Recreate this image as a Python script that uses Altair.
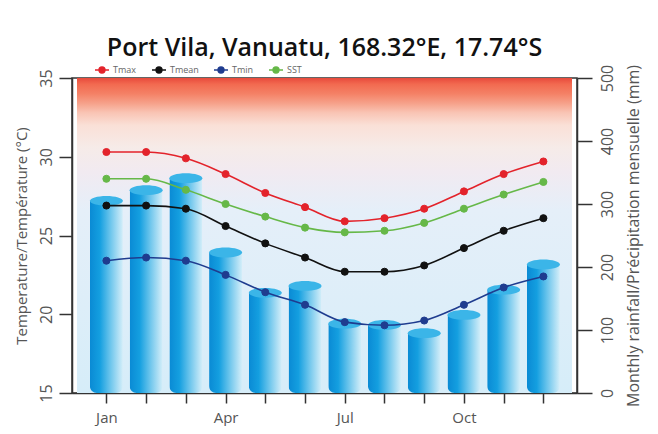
import altair as alt
import pandas as pd

# ---------------- data ----------------
months = list(range(1, 13))
month_names = ["Jan", "Feb", "Mar", "Apr", "May", "Jun", "Jul", "Aug", "Sep", "Oct", "Nov", "Dec"]
labelled_months = ["Jan", "Apr", "Jul", "Oct"]

tmax = [30.3, 30.3, 29.9, 28.9, 27.7, 26.8, 25.9, 26.1, 26.7, 27.8, 28.9, 29.7]
tmean = [26.9, 26.9, 26.7, 25.6, 24.5, 23.6, 22.7, 22.7, 23.1, 24.2, 25.3, 26.1]
tmin = [23.4, 23.6, 23.4, 22.5, 21.4, 20.6, 19.5, 19.3, 19.6, 20.6, 21.7, 22.4]
sst = [28.6, 28.6, 27.9, 27.0, 26.2, 25.5, 25.2, 25.3, 25.8, 26.7, 27.6, 28.4]
rainfall = [305, 322, 341, 223, 159, 170, 110, 108, 95, 124, 164, 204]

series_names = ["Tmax", "Tmean", "Tmin", "SST"]
series_colors = ["#e3232b", "#111111", "#1f3c8f", "#66b848"]

temp_ticks = [15, 20, 25, 30, 35]
rain_ticks = [0, 100, 200, 300, 400, 500]
x_domain = [0.26, 12.72]

title_text = "Port Vila, Vanuatu, 168.32°E, 17.74°S"
left_title = "Temperature/Température (°C)"
right_title = "Monthly rainfall/Précipitation mensuelle (mm)"

# ---------------- tables ----------------
temp_df = pd.DataFrame(
    [{"month": m, "series": s, "temp": v}
     for s, vals in zip(series_names, [tmax, tmean, tmin, sst])
     for m, v in zip(months, vals)]
)
rain_df = pd.DataFrame({"month": months, "rain": rainfall})
bg_df = pd.DataFrame({"month": [x_domain[0]], "month_end": [x_domain[1]],
                      "rain": [rain_ticks[0]], "rain_end": [rain_ticks[-1]]})

FONT = "Open Sans"
AX = "#333333"

label_expr = "||".join(
    [f"datum.value=={months[month_names.index(n)]}" for n in labelled_months]
)
label_expr = ("(" + label_expr + ") ? " +
              "['" + "','".join(month_names) + "'][datum.value-1] : ''")

x_scale = alt.Scale(domain=x_domain, nice=False, zero=False)
x_axis = alt.Axis(values=months, labelExpr=label_expr, tickSize=10,
                  labelPadding=7, labelFontSize=15, labelColor="#555555",
                  labelFont=FONT, grid=False, domainColor=AX, tickColor=AX,
                  domainWidth=1.5, tickWidth=1.5, labelFlush=False)

rain_scale = alt.Scale(domain=[rain_ticks[0], rain_ticks[-1]], nice=False, zero=True)
temp_scale = alt.Scale(domain=[temp_ticks[0], temp_ticks[-1]], nice=False, zero=False)

right_axis = alt.Axis(
    orient="right", values=rain_ticks, grid=False,
    labelAngle=270, labelAlign="center", labelBaseline="top",
    tickSize=15, labelPadding=7, labelFontSize=16, labelColor="#555555",
    labelFont=FONT, titleFont=FONT, titleFontSize=16, titleFontWeight="normal",
    titleColor="#555555", titleAngle=270, titleBaseline="top", titlePadding=10,
    domainColor=AX, tickColor=AX, domainWidth=1.5, tickWidth=1.5,
)
left_axis = alt.Axis(
    orient="left", values=temp_ticks, grid=False,
    labelAngle=270, labelAlign="center", labelBaseline="bottom",
    tickSize=13, labelPadding=5, labelFontSize=16, labelColor="#555555",
    labelFont=FONT, titleFont=FONT, titleFontSize=15, titleFontWeight="normal",
    titleColor="#555555", titleAngle=270, titleBaseline="bottom", titlePadding=9,
    domainColor=AX, tickColor=AX, domainWidth=1.5, tickWidth=1.5,
)

bg_grad = alt.LinearGradient(
    gradient="linear", x1=0, x2=0, y1=0, y2=1,
    stops=[
        alt.GradientStop(color="#e84a3c", offset=0),
        alt.GradientStop(color="#f26a50", offset=0.02),
        alt.GradientStop(color="#f48166", offset=0.05),
        alt.GradientStop(color="#f6a18a", offset=0.08),
        alt.GradientStop(color="#f9c4b4", offset=0.11),
        alt.GradientStop(color="#fae0d7", offset=0.15),
        alt.GradientStop(color="#f6ebe8", offset=0.22),
        alt.GradientStop(color="#f1eaf1", offset=0.30),
        alt.GradientStop(color="#e5eff9", offset=0.42),
        alt.GradientStop(color="#d6edf9", offset=1),
    ],
)
bar_grad = alt.LinearGradient(
    gradient="linear", x1=0, x2=1, y1=0, y2=0,
    stops=[
        alt.GradientStop(color="#0a8ad4", offset=0),
        alt.GradientStop(color="#149fe0", offset=0.3),
        alt.GradientStop(color="#6cc5ec", offset=0.62),
        alt.GradientStop(color="#d4eef9", offset=1),
    ],
)

bg = alt.Chart(bg_df).mark_rect(color=bg_grad).encode(
    x=alt.X("month:Q", scale=x_scale, axis=x_axis, title=None),
    x2="month_end:Q",
    y=alt.Y("rain:Q", scale=rain_scale, axis=right_axis, title=right_title),
    y2="rain_end:Q",
)

bars = alt.Chart(rain_df).mark_bar(
    width=33, color=bar_grad, cornerRadiusBottomLeft=7, cornerRadiusBottomRight=7
).encode(
    x=alt.X("month:Q", scale=x_scale, axis=x_axis, title=None),
    y=alt.Y("rain:Q", scale=rain_scale, axis=right_axis, title=right_title),
)

ellipse = "M-1,0A1,0.3,0,1,1,1,0A1,0.3,0,1,1,-1,0Z"
tops = alt.Chart(rain_df).mark_point(
    shape=ellipse, filled=True, size=33 * 33, color="#3bb5e8", opacity=1, strokeWidth=0
).encode(
    x=alt.X("month:Q", scale=x_scale, axis=x_axis, title=None),
    y=alt.Y("rain:Q", scale=rain_scale, axis=right_axis, title=right_title),
)

legend_symbol = "M-1,0L1,0M-0.42,0A0.42,0.42,0,1,1,0.42,0A0.42,0.42,0,1,1,-0.42,0Z"
color_scale = alt.Scale(domain=series_names, range=series_colors)
legend = alt.Legend(
    title=None, orient="none", direction="horizontal", legendX=22, legendY=-16,
    symbolType=legend_symbol, symbolSize=196, symbolStrokeWidth=1.5,
    labelFontSize=9, labelColor="#666666", labelFont=FONT, labelOffset=3,
    columnPadding=12, symbolOpacity=1,
)

lines = alt.Chart(temp_df).mark_line(interpolate="monotone", strokeWidth=1.6).encode(
    x=alt.X("month:Q", scale=x_scale, axis=x_axis, title=None),
    y=alt.Y("temp:Q", scale=temp_scale, axis=left_axis, title=left_title),
    stroke=alt.Stroke("series:N", scale=color_scale, sort=series_names, legend=legend),
    detail="series:N",
)
points = alt.Chart(temp_df).mark_point(filled=True, size=50, opacity=1, strokeWidth=1).encode(
    x=alt.X("month:Q", scale=x_scale, axis=x_axis, title=None),
    y=alt.Y("temp:Q", scale=temp_scale, axis=left_axis, title=left_title),
    fill=alt.Fill("series:N", scale=color_scale, sort=series_names, legend=legend),
    stroke=alt.Stroke("series:N", scale=color_scale, sort=series_names, legend=legend),
)

rain_layer = alt.layer(bg, bars, tops)
temp_layer = alt.layer(lines, points)

chart = (
    alt.layer(rain_layer, temp_layer)
    .resolve_scale(y="independent")
    .properties(
        width=505, height=315,
        title=alt.Title(title_text, font=FONT, fontSize=25, fontWeight=600,
                        color="#111111", anchor="middle", offset=4, dy=3),
        autosize=alt.AutoSizeParams(type="none"),
        padding={"left": 64, "top": 70, "right": 73, "bottom": 33},
        background="white",
    )
    .configure_view(stroke=AX, strokeWidth=1.5)
)

chart.save("out.html", embed_options={"renderer": "svg", "actions": False})
